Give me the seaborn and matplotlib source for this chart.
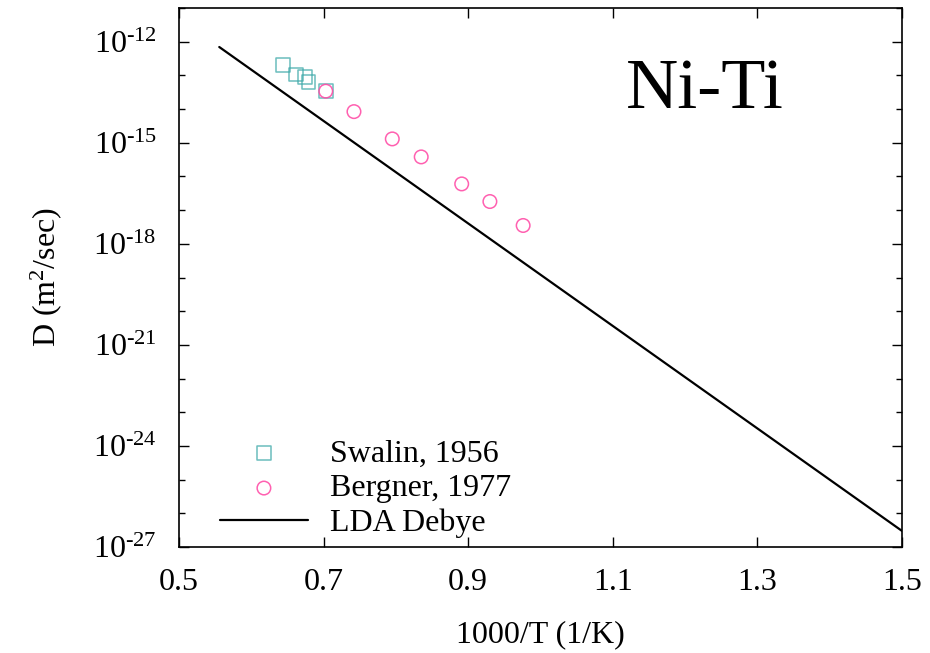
import numpy as np
import pandas as pd
import matplotlib
matplotlib.use("Agg")
import matplotlib.pyplot as plt
import matplotlib.ticker as mticker
import seaborn as sns

# Diffusion data for Ni in Ti
swalin_x = [0.644, 0.662, 0.674, 0.679, 0.703]
swalin_d = [2.06e-13, 1.06e-13, 8.9e-14, 6.3e-14, 3.4e-14]

bergner_x = [0.703, 0.742, 0.795, 0.835, 0.891, 0.930, 0.976]
bergner_d = [3.4e-14, 8.4e-15, 1.3e-15, 3.8e-16, 6.0e-17, 1.8e-17, 3.5e-18]

lda_x = [0.5557, 1.5]
lda_d = [6.95e-13, 3.0e-27]

x_ticks = [0.5, 0.7, 0.9, 1.1, 1.3, 1.5]
y_major_exp = [-27, -24, -21, -18, -15, -12]

sns.set_theme(style="ticks")
plt.rcParams["font.family"] = ["Liberation Serif", "DejaVu Serif"]
plt.rcParams["mathtext.fontset"] = "custom"
plt.rcParams["mathtext.rm"] = "Liberation Serif"
plt.rcParams["mathtext.it"] = "Liberation Serif:italic"
for key in ["text.color", "axes.labelcolor", "xtick.color", "ytick.color",
            "axes.edgecolor"]:
    plt.rcParams[key] = "black"

FS = 23
teal = "#3aa8a8"
pink = "#ff4fa8"

fig = plt.figure(figsize=(9.3, 6.53), dpi=100)
ax = fig.add_axes([179 / 930, 1 - 547 / 653, (902 - 179) / 930, (547 - 8) / 653])

df_s = pd.DataFrame({"x": swalin_x, "D": swalin_d})
df_b = pd.DataFrame({"x": bergner_x, "D": bergner_d})
df_l = pd.DataFrame({"x": lda_x, "D": lda_d})

sns.scatterplot(data=df_s, x="x", y="D", ax=ax, marker="s", s=95,
                facecolor="none", edgecolor=teal, linewidth=1.1, alpha=0.75,
                label="Swalin, 1956")
sns.scatterplot(data=df_b, x="x", y="D", ax=ax, marker="o", s=95,
                facecolor="none", edgecolor=pink, linewidth=1.1, alpha=0.9,
                label="Bergner, 1977")
sns.lineplot(data=df_l, x="x", y="D", ax=ax, color="black", linewidth=1.6,
             label="LDA Debye")

ax.set_yscale("log")
ax.set_xlim(0.5, 1.5)
ax.set_ylim(1e-27, 1e-11)

ax.xaxis.set_major_locator(mticker.FixedLocator(x_ticks))
ax.xaxis.set_major_formatter(mticker.FixedFormatter([f"{v:.1f}" for v in x_ticks]))
ax.xaxis.set_minor_locator(mticker.NullLocator())

ax.yaxis.set_major_locator(mticker.FixedLocator([10.0 ** e for e in y_major_exp]))
ax.yaxis.set_major_formatter(
    mticker.FixedFormatter([f"$10^{{\\text{{{e}}}}}$" for e in y_major_exp]))
minor_exp = [e for e in range(-27, -10) if e not in y_major_exp]
ax.yaxis.set_minor_locator(mticker.FixedLocator([10.0 ** e for e in minor_exp]))
ax.yaxis.set_minor_formatter(mticker.NullFormatter())

ax.tick_params(axis="both", which="both", direction="in", top=True, right=True,
               labelsize=FS)
ax.tick_params(axis="x", which="major", length=7, width=1, pad=15)
ax.tick_params(axis="y", which="major", length=7, width=1, pad=16)
ax.tick_params(axis="y", which="minor", length=4, width=1)

for sp in ax.spines.values():
    sp.set_linewidth(1.2)

ax.set_xlabel("1000/T (1/K)", fontsize=FS)
ax.set_ylabel(r"D (m$^2$/sec)", fontsize=FS)
ax.xaxis.set_label_coords(0.5, -0.135)
ax.yaxis.set_label_coords(-0.159, 0.5)

ax.text(0.7275, 0.8145, "Ni-Ti", transform=ax.transAxes, fontsize=52,
        ha="center", va="baseline")

leg = ax.legend(loc="lower left", bbox_to_anchor=(0.0567, 0.016), frameon=False,
                fontsize=FS, handlelength=2.75, handletextpad=0.68,
                labelspacing=0.17, borderaxespad=0.0, borderpad=0.0)

fig.savefig("out.png", dpi=100)
